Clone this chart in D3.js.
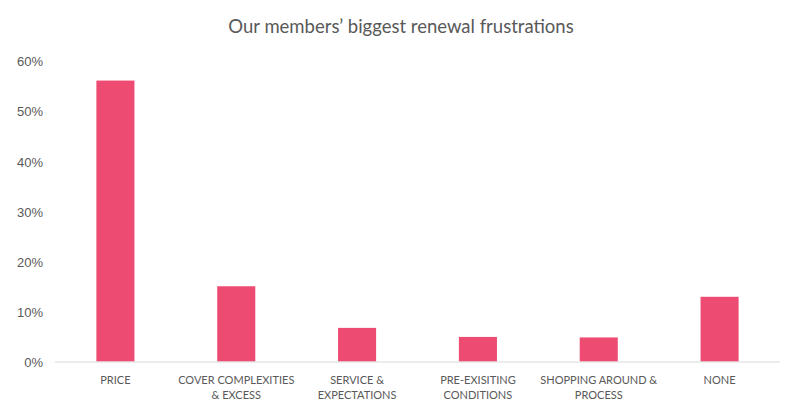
<!DOCTYPE html>
<html>
<head>
<meta charset="utf-8">
<script src="https://cdn.jsdelivr.net/npm/d3@7"></script>
<style>
  body { margin: 0; background: #fff; }
</style>
</head>
<body>
<div id="chart"></div>
<script>
// chart data
const categories = [
  ["PRICE"],
  ["COVER COMPLEXITIES", "& EXCESS"],
  ["SERVICE &", "EXPECTATIONS"],
  ["PRE-EXISITING", "CONDITIONS"],
  ["SHOPPING AROUND &", "PROCESS"],
  ["NONE"]
];
const values = [0.56, 0.15, 0.067, 0.049, 0.048, 0.129];
const yTicks = [0, 0.1, 0.2, 0.3, 0.4, 0.5, 0.6];
const title = "Our members\u2019 biggest renewal frustrations";

const svgWidth = 800;
const svgHeight = 417;
const margin = { top: 60, right: 20, bottom: 55, left: 55 };

const svg = d3.select("#chart")
  .append("svg")
  .attr("width", svgWidth)
  .attr("height", svgHeight);

const x = d3.scaleBand()
  .domain(d3.range(categories.length))
  .range([margin.left, svgWidth - margin.right])
  .paddingInner(0.685)
  .paddingOuter(0.3425);

const y = d3.scaleLinear()
  .domain([0, 0.6])
  .range([svgHeight - margin.bottom - 0.5, margin.top + 0.5]);

// title
svg.append("text")
  .attr("x", 401)
  .attr("y", 33)
  .attr("text-anchor", "middle")
  .style("font-family", "Lato, 'Open Sans', sans-serif")
  .style("font-size", "18.5px")
  .style("fill", "#595959")
  .text(title);

// y axis labels (no axis line)
const yAxis = svg.append("g")
  .attr("transform", `translate(${margin.left - 12}, 1)`)
  .call(d3.axisLeft(y).tickValues(yTicks).tickFormat(d3.format(".0%")).tickSize(0).tickPadding(0));
yAxis.select(".domain").remove();
yAxis.selectAll("text")
  .style("font-family", "'Liberation Sans', Arial, sans-serif")
  .style("font-size", "13px")
  .style("fill", "#595959");

// bars
svg.selectAll(".bar")
  .data(values)
  .enter().append("rect")
  .attr("class", "bar")
  .attr("x", (d, i) => x(i))
  .attr("y", d => y(d))
  .attr("width", x.bandwidth())
  .attr("height", d => y(0) - y(d))
  .attr("fill", "#ee4b72");

// baseline
svg.append("line")
  .attr("x1", margin.left)
  .attr("x2", svgWidth - margin.right)
  .attr("y1", y(0) + 0.5)
  .attr("y2", y(0) + 0.5)
  .attr("stroke", "#d9d9d9")
  .attr("stroke-width", 1);

// x labels
const labels = svg.selectAll(".xlabel")
  .data(categories)
  .enter().append("text")
  .attr("class", "xlabel")
  .attr("text-anchor", "middle")
  .attr("x", (d, i) => x(i) + x.bandwidth() / 2)
  .attr("y", y(0) + 22)
  .style("font-family", "Lato, 'Open Sans', sans-serif")
  .style("font-size", "11px")
  .style("fill", "#595959");

labels.selectAll("tspan")
  .data(d => d)
  .enter().append("tspan")
  .attr("x", function () { return this.parentNode.getAttribute("x"); })
  .attr("dy", (d, i) => i === 0 ? 0 : 15)
  .text(d => d);
</script>
</body>
</html>
